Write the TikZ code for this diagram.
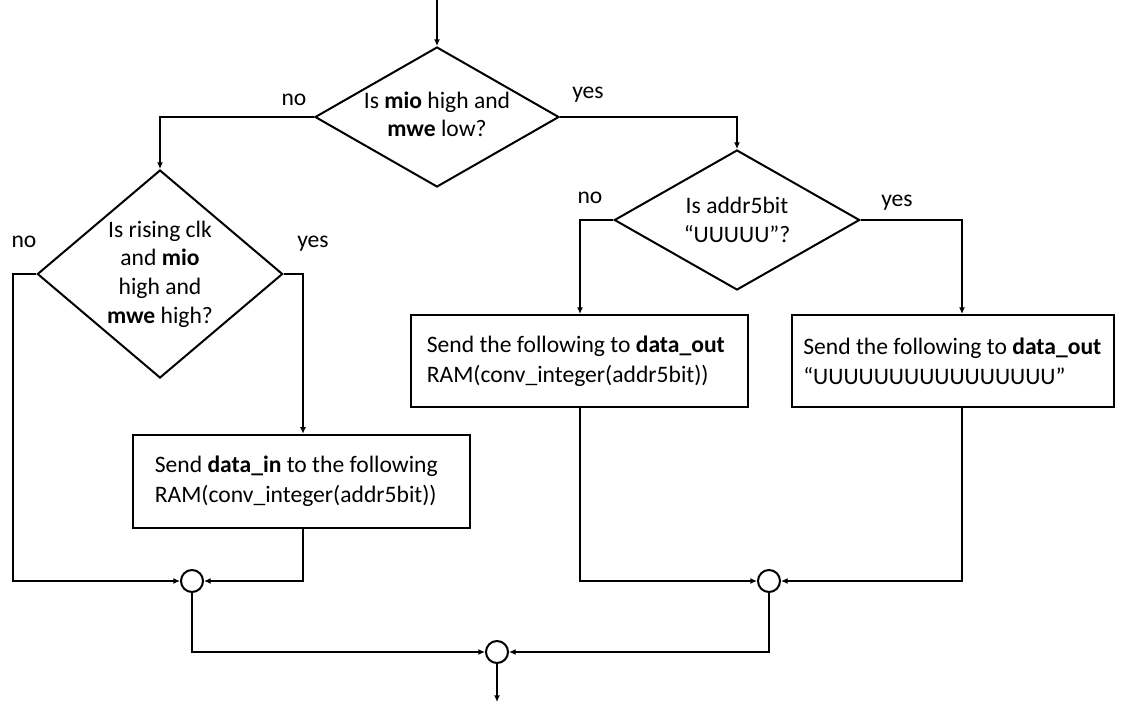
\documentclass[tikz,border=0pt]{standalone}
\usepackage{fontspec}
\setmainfont{Carlito}
\usetikzlibrary{shapes.geometric,arrows.meta}

\tikzset{
  flow/.style={line width=1.5pt, -{Latex[length=5pt,width=4.5pt]}},
  decision/.style={diamond, draw, line width=1.5pt, inner sep=0pt},
  question/.style={align=center, font=\fontsize{17.7}{21.5}\selectfont},
  action/.style={rectangle, draw, line width=1.5pt, align=flush left, font=\fontsize{17.7}{22.5}\selectfont},
  junction/.style={circle, draw, line width=1.5pt, minimum size=16.5pt, inner sep=0pt},
  answer/.style={font=\fontsize{17.7}{21}\selectfont}
}

\begin{document}
\begin{tikzpicture}[x=0.75pt, y=-0.75pt]
	%%%%% START %%%%%
	\useasboundingbox (0,0) rectangle (1128,704);

	\coordinate (start) at (437, 0);
	\coordinate (finish) at (497, 702);

	% decisions
	\node[decision, minimum width=183pt, minimum height=105pt,
		label={[question, yshift=2pt]center:{Is \textbf{mio} high and\\\textbf{mwe} low?}}] (mode) at (437, 117) {};
	\node[decision, minimum width=184pt, minimum height=156pt,
		label={[question]center:{Is rising clk\\and \textbf{mio}\\high and\\\textbf{mwe} high?}}] (write) at (160, 274) {};
	\node[decision, minimum width=184pt, minimum height=105pt,
		label={[question]center:{Is addr5bit\\``UUUUU''?}}] (undef) at (737, 220) {};

	% actions
	\node[action, minimum width=253pt, minimum height=70pt, inner xsep=16.5pt, text width=220pt] (store) at (301.5, 481.5)
		{Send \textbf{data\_in} to the following\\RAM(conv\_integer(addr5bit))};
	\node[action, minimum width=253pt, minimum height=69pt, inner xsep=12pt, text width=229pt] (readram) at (579.5, 361)
		{Send the following to \textbf{data\_out}\\RAM(conv\_integer(addr5bit))};
	\node[action, minimum width=241.5pt, minimum height=69pt, inner xsep=8.5pt, text width=224.5pt] (readundef) at (953, 361)
		{Send the following to \textbf{data\_out}\\``UUUUUUUUUUUUUUUU''};

	% junctions
	\node[junction] (joinL) at (192, 581) {};
	\node[junction] (joinR) at (769, 581) {};
	\node[junction] (joinM) at (497, 652) {};

	% answers
	\node[answer] at (294, 100) {no};
	\node[answer] at (588, 95) {yes};
	\node[answer] at (24, 242) {no};
	\node[answer] at (313, 244) {yes};
	\node[answer] at (590, 198) {no};
	\node[answer] at (897, 203) {yes};

	% connectors
	\draw[flow] (start) -- (mode.north);
	\draw[flow] (mode.west) -| (write.north);
	\draw[flow] (mode.east) -| (undef.north);

	\draw[flow] (write.east) -- (303, 274) -- (303, 274 |- store.north);
	\draw[flow] (write.west) -- (13, 274) |- (joinL.west);
	\draw[flow] ([xshift=0.75pt]store.south) |- (joinL.east);

	\draw[flow] (undef.west) -- (580, 220) -- (580, 220 |- readram.north);
	\draw[flow] (undef.east) -- (962, 220) -- (962, 220 |- readundef.north);
	\draw[flow] (580, 220 |- readram.south) |- (joinR.west);
	\draw[flow] (962, 220 |- readundef.south) |- (joinR.east);

	\draw[flow] (joinL.south) |- (joinM.west);
	\draw[flow] (joinR.south) |- (joinM.east);
	\draw[flow] (joinM.south) -- (finish);
	%%%%% END %%%%%
\end{tikzpicture}
\end{document}
